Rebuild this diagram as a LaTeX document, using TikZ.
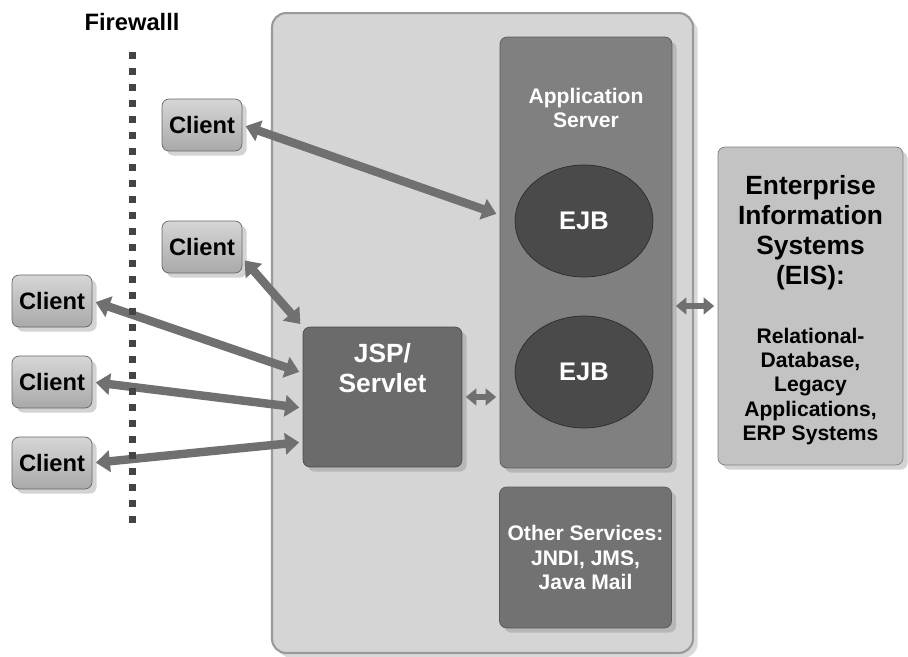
\documentclass[tikz,border=0pt]{standalone}
\usepackage{fontspec}
\setmainfont{Liberation Sans}
\usepackage{tikz}
\usetikzlibrary{positioning}
\usetikzlibrary{shadows}
\usetikzlibrary{calc}
\usetikzlibrary{arrows.meta}
\usetikzlibrary{shapes.geometric}
\definecolor{shellfill}{HTML}{D5D5D5}
\definecolor{shellline}{HTML}{9A9A9A}
\definecolor{appfill}{HTML}{808080}
\definecolor{beanfill}{HTML}{4A4A4A}
\definecolor{jspfill}{HTML}{6B6B6B}
\definecolor{otherfill}{HTML}{727272}
\definecolor{eisfill}{HTML}{C3C3C3}
\definecolor{clienttop}{HTML}{D6D6D6}
\definecolor{clientbot}{HTML}{A9A9A9}
\definecolor{linkgray}{HTML}{707070}
\definecolor{walldot}{HTML}{444444}
\tikzset{
	container/.style={
		draw=shellline, line width=1.2pt, fill=shellfill, rounded corners=8pt,
		minimum width=8.42cm, minimum height=12.8cm,
		drop shadow={opacity=0.3}
	},
	appbox/.style={
		draw=appfill!70!black, fill=appfill, rounded corners=4pt,
		minimum width=3.44cm, inner sep=0pt, align=center, text=white,
		font=\fontsize{12}{14.2}\bfseries\selectfont,
		drop shadow={opacity=0.35}
	},
	servlet/.style={
		appbox, fill=jspfill, draw=jspfill!70!black,
		minimum width=3.18cm, minimum height=2.8cm
	},
	bean/.style={
		ellipse, draw=beanfill!60!black, fill=beanfill, text=white,
		minimum width=2.76cm, minimum height=2.24cm, inner sep=0pt,
		font=\fontsize{14.5}{17}\bfseries\selectfont,
		drop shadow={opacity=0.3}
	},
	eis/.style={
		draw=eisfill!65!black, fill=eisfill, rounded corners=4pt,
		minimum width=3.7cm, minimum height=6.36cm,
		drop shadow={opacity=0.35}
	},
	client/.style={
		draw=clientbot!60!black, rounded corners=4pt,
		top color=clienttop, bottom color=clientbot,
		minimum width=1.6cm, minimum height=1.04cm, inner sep=0pt,
		font=\fontsize{13.5}{15}\bfseries\selectfont,
		drop shadow={opacity=0.35}
	},
	lightlabel/.style={text=white, align=center, inner sep=0pt},
	darklabel/.style={text=black, align=center, inner sep=0pt},
	link/.style={
		draw=linkgray, line width=4.8pt,
		{Triangle[length=8pt,width=12pt]}-{Triangle[length=8pt,width=12pt]},
		shorten <=2pt, shorten >=2pt
	},
	minilink/.style={
		draw=linkgray, line width=3.6pt,
		{Triangle[length=6pt,width=9.5pt]}-{Triangle[length=6pt,width=9.5pt]},
		shorten <=2pt, shorten >=2pt
	},
	firewall/.style={
		draw=walldot, line width=0.14cm, dash pattern=on 0.14cm off 0.18cm
	}
}

\begin{document}
\begin{tikzpicture}[x=0.02cm, y=-0.02cm]
	\useasboundingbox (0,0) rectangle (908,656);

	% the server side
	\node[container] (shell) at (482.5,333) {};
	\node[appbox, minimum height=8.62cm] (app) at (586,252.5) {};
	\node[lightlabel, font=\fontsize{12}{13.2}\bfseries\selectfont] (app-title) at (586,108) {Application\\Server};
	\node[bean] (ejb1) at (584,221) {EJB};
	\node[bean] (ejb2) at (584,372) {EJB};
	\node[appbox, fill=otherfill, minimum height=2.82cm] (other) at (585.5,557.5) {Other Services:\\JNDI, JMS,\\Java Mail};
	\node[servlet] (jsp) at (382.5,397) {};
	\node[lightlabel, font=\fontsize{15}{17}\bfseries\selectfont] (jsp-title) at (382.5,368) {JSP/\\Servlet};

	% EIS
	\node[eis] (eis) at (810.5,306) {};
	\node[darklabel, font=\fontsize{15}{17}\bfseries\selectfont] (eis-title) at (810.5,232.5) {Enterprise\\Information\\Systems\\(EIS):};
	\node[darklabel, font=\fontsize{12}{13.7}\bfseries\selectfont] (eis-sub) at (810.5,386.5) {Relational-\\Database,\\Legacy\\Applications,\\ERP Systems};

	% clients
	\node[client] (c1) at (202,125) {Client};
	\node[client] (c2) at (202,247) {Client};
	\node[client] (c3) at (52,301) {Client};
	\node[client] (c4) at (52,382) {Client};
	\node[client] (c5) at (52,463) {Client};

	\draw[link] (c1.east) -- ([yshift=0.12cm]app.west |- ejb1);
	\draw[link] (c2.-15) -- (jsp.north west);
	\draw[link] (c3.east) -- ([yshift=0.48cm]jsp.west);
	\draw[link] (c4.east) -- ([yshift=-0.22cm]jsp.west);
	\draw[link] (c5.east) -- ([yshift=-0.9cm]jsp.west);
	\draw[minilink] (jsp.east) -- (jsp.east -| app.west);
	\draw[minilink] (app.east |- eis.west) -- (eis.west);

	% firewall
	\node[darklabel, font=\fontsize{13.5}{15}\bfseries\selectfont] (fw) at (132,22) {Firewalll};
	\coordinate (fw-top) at (132,52);
	\coordinate (fw-bot) at (132,524);
	\draw[firewall] (fw-top) -- (fw-bot);
\end{tikzpicture}
\end{document}
